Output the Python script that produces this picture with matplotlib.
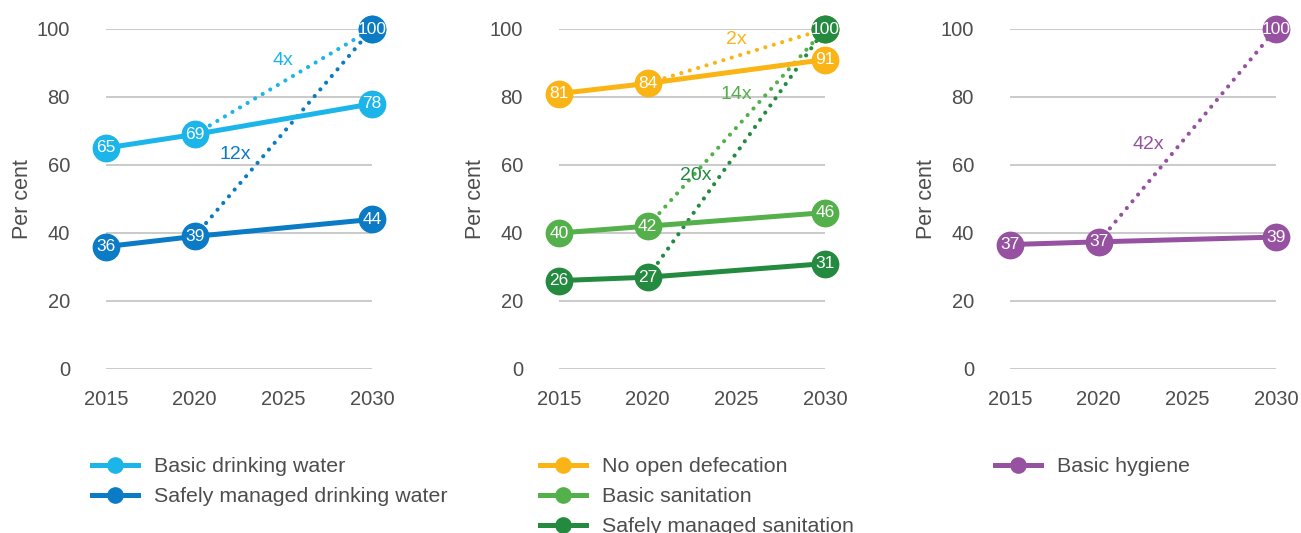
import matplotlib
matplotlib.use("Agg")
import matplotlib.pyplot as plt

plt.rcParams['font.family'] = ['Liberation Sans', 'DejaVu Sans']

years = [2015, 2020, 2030]
target_year = 2030
target_value = 100

# panel 1: water
water_names = ["Basic drinking water", "Safely managed drinking water"]
water_values = [[65, 69, 78], [36, 39, 44]]
water_rates = ["4x", "12x"]

# panel 2: sanitation
sanitation_names = ["No open defecation", "Basic sanitation", "Safely managed sanitation"]
sanitation_values = [[81, 84, 91], [40, 42, 46], [26, 27, 31]]
sanitation_rates = ["2x", "14x", "20x"]

# panel 3: hygiene
hygiene_names = ["Basic hygiene"]
hygiene_values = [[36.6, 37.4, 38.8]]
hygiene_rates = ["42x"]

panels = [
    (water_names, water_values, water_rates, ["#1cb5ea", "#0b7bc5"],
     [(2025.0, 90.6), (2022.3, 63.2)]),
    (sanitation_names, sanitation_values, sanitation_rates, ["#fbb415", "#54b04a", "#248a40"],
     [(2025.0, 96.8), (2025.0, 80.6), (2022.7, 56.9)]),
    (hygiene_names, hygiene_values, hygiene_rates, ["#9652a1"],
     [(2022.8, 65.9)]),
]

W, H = 1301, 533
fig = plt.figure(figsize=(W / 100, H / 100), dpi=100)
lefts = [106, 559, 1010]
legend_x = [92, 540, 995]
txt = "#4d4d4d"

for (names, values, rates, colors, rate_pos), left, lx in zip(panels, lefts, legend_x):
    ax = fig.add_axes([left / W, (H - 369) / H, 266 / W, 340 / H])
    ax.set_xlim(2015, 2030)
    ax.set_ylim(0, 100)
    for y in range(0, 101, 20):
        ax.axhline(y, color="#c6c6c6", lw=1.3, zorder=0)
    for sp in ax.spines.values():
        sp.set_visible(False)
    ax.set_xticks([2015, 2020, 2025, 2030])
    ax.set_yticks(range(0, 101, 20))
    ax.tick_params(length=0, labelsize=14.5, labelcolor=txt)
    ax.tick_params(axis='x', pad=15)
    ax.tick_params(axis='y', pad=26)
    ax.set_ylabel("Per cent", fontsize=15.5, color=txt)
    ax.yaxis.set_label_coords(-0.275, 0.5)

    # dotted paths to target
    for i, (vals, c) in enumerate(zip(values, colors)):
        ax.plot([years[1], target_year], [vals[1], target_value], color=c, lw=3.0,
                linestyle=(0, (0.01, 2.1)), dash_capstyle='round', zorder=3 + i,
                clip_on=False)
    handles = []
    for i, (vals, c, name) in enumerate(zip(values, colors, names)):
        h, = ax.plot(years, vals, color=c, lw=3.6, marker='o', markersize=20,
                     markeredgewidth=0, zorder=5 + i, clip_on=False, label=name)
        for x, v in zip(years, vals):
            ax.text(x, v, f"{v:.0f}", color="white", fontsize=12.5, ha='center',
                    va='center', zorder=10 + i, clip_on=False)
        ax.plot([target_year], [target_value], marker='o', markersize=20, color=c,
                markeredgewidth=0, zorder=10 + i, clip_on=False)
        ax.text(target_year, target_value, str(target_value), color="white",
                fontsize=12.5, ha='center', va='center', zorder=11 + i, clip_on=False)
        handles.append(h)
    for r, (px, py), c in zip(rates, rate_pos, colors):
        ax.text(px, py, r, color=c, fontsize=14, ha='center', va='center', zorder=4)

    leg = fig.legend(handles=handles, loc='upper left',
                     bbox_to_anchor=(lx / W, (H - 457) / H), frameon=False,
                     fontsize=15.4, handlelength=2.15, handletextpad=0.75,
                     labelspacing=0.52, markerscale=0.6, borderpad=0,
                     borderaxespad=0)
    for t in leg.get_texts():
        t.set_color(txt)

fig.savefig("out.png", dpi=100)
